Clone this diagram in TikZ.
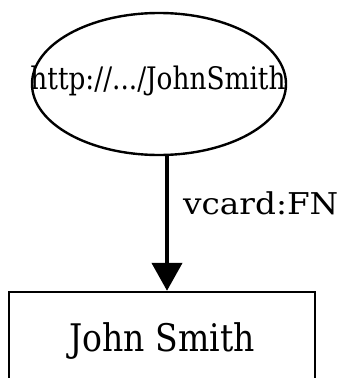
\documentclass[tikz,border=0pt]{standalone}
\usepackage{fontspec}
\setmainfont{DejaVu Serif}
\usetikzlibrary{shapes.geometric,arrows.meta}
\begin{document}
\begin{tikzpicture}[x=1pt,y=1pt,
  urinode/.style={draw=black,line width=2.4pt,ellipse,inner sep=0pt,
    minimum width=254pt,minimum height=142pt},
  litnode/.style={draw=black,line width=2.4pt,rectangle,inner sep=0pt,
    minimum width=306pt,minimum height=91pt,text height=27pt,text depth=0pt},
  relarrow/.style={line width=4.4pt,-{Triangle[length=28pt,width=30pt]}},
  reltext/.style={inner sep=0pt,anchor=base west}]
\useasboundingbox (0,0) rectangle (339,-378);
\clip (0,0) rectangle (339,-378);
\fill[white] (0,0) rectangle (339,-378);
\node[urinode] (uri) at (159,-84) {};
\node[inner sep=0pt,anchor=base] (uritext) at (158,-89)
  {\scalebox{0.85}[1]{\fontsize{31}{34}\selectfont http://.../JohnSmith}};
\node[litnode] (lit) at (162,-337.5) {\scalebox{0.87}[1]{\fontsize{38}{40}\selectfont John Smith}};
\coordinate (ax) at (167,0);
\draw[relarrow] (uri.south -| ax) -- (lit.north -| ax);
\node[reltext] (lbl) at (183,-214) {\scalebox{1.09}[1]{\fontsize{30}{34}\selectfont vcard:FN}};
\end{tikzpicture}
\end{document}
